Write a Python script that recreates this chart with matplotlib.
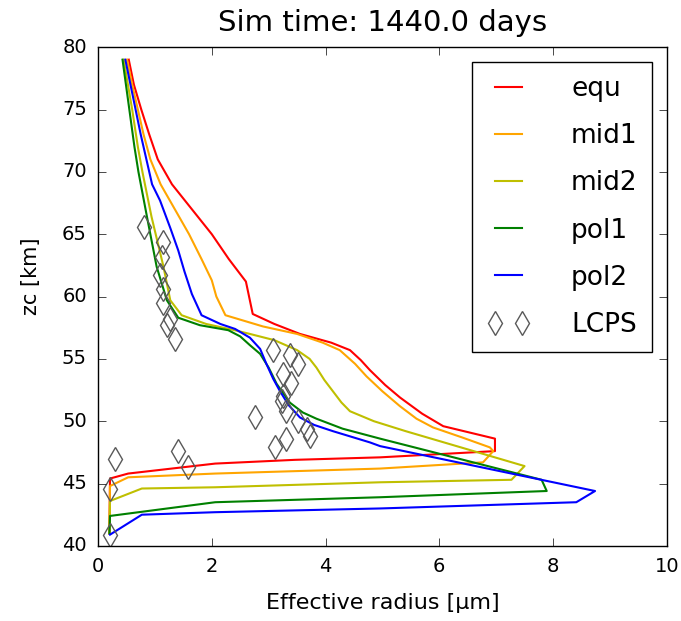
import numpy as np
import matplotlib
matplotlib.use('Agg')
import matplotlib.pyplot as plt

# effective radius profiles (radius in micron, altitude in km)
z_equ = [79.0, 77.0, 75.0, 73.0, 71.0, 69.0, 67.0, 65.0, 63.0, 61.2, 58.6,
         57.8, 57.0, 56.3, 55.7, 54.9, 54.1, 52.9, 51.9, 50.6, 49.6, 48.6,
         47.6, 47.1, 46.9, 46.6, 45.8, 45.4, 41.0]
r_equ = [0.54, 0.63, 0.76, 0.90, 1.05, 1.30, 1.65, 2.00, 2.30, 2.60, 2.72,
         3.10, 3.55, 4.10, 4.43, 4.62, 4.78, 5.05, 5.31, 5.70, 6.07, 6.98,
         6.98, 4.96, 3.46, 2.06, 0.53, 0.21, 0.20]

z_mid1 = [79.0, 77.0, 75.0, 73.0, 71.0, 69.0, 67.0, 65.0, 63.0, 61.3, 60.0,
          58.5, 57.6, 57.0, 56.3, 55.7, 54.6, 53.6, 52.4, 51.2, 50.2, 49.5,
          48.7, 47.9, 47.6, 46.7, 46.2, 45.8, 45.5, 44.8, 41.0]
r_mid1 = [0.51, 0.60, 0.70, 0.80, 0.92, 1.10, 1.35, 1.60, 1.82, 2.00, 2.08,
          2.24, 2.90, 3.50, 3.95, 4.25, 4.52, 4.72, 5.00, 5.31, 5.60, 5.89,
          6.40, 6.89, 6.95, 6.77, 4.96, 2.06, 0.53, 0.21, 0.20]

z_mid2 = [79.0, 75.0, 72.0, 70.0, 66.4, 62.4, 59.7, 58.5, 57.8, 57.3, 57.0,
          56.5, 55.7, 55.0, 54.3, 53.3, 52.4, 51.5, 50.8, 50.0, 49.2, 46.4,
          45.3, 45.1, 44.7, 44.6, 43.6, 41.0]
r_mid2 = [0.45, 0.60, 0.70, 0.78, 0.94, 1.15, 1.27, 1.47, 1.90, 2.40, 2.67,
          3.10, 3.50, 3.72, 3.84, 3.98, 4.13, 4.28, 4.43, 4.85, 5.41, 7.50,
          7.27, 4.96, 2.06, 0.77, 0.21, 0.20]

z_pol1 = [79.0, 75.0, 72.0, 70.0, 66.4, 62.4, 59.7, 58.3, 57.7, 57.3, 56.8,
          56.1, 55.4, 54.3, 53.0, 51.5, 50.7, 50.2, 49.4, 48.6, 45.3, 44.4,
          43.9, 43.5, 42.4, 41.0]
r_pol1 = [0.43, 0.55, 0.64, 0.71, 0.86, 1.03, 1.21, 1.41, 1.79, 2.29, 2.50,
          2.67, 2.85, 3.00, 3.14, 3.37, 3.60, 3.84, 4.30, 4.96, 7.80, 7.89,
          4.96, 2.06, 0.21, 0.20]

z_pol2 = [79.0, 77.0, 75.0, 73.0, 71.0, 69.0, 67.7, 65.5, 63.7, 62.0, 60.2,
          58.5, 57.8, 57.4, 56.7, 55.8, 54.6, 53.4, 52.4, 51.3, 50.3, 49.7,
          49.2, 48.3, 48.0, 44.4, 43.5, 43.0, 42.7, 42.5, 40.9]
r_pol2 = [0.48, 0.57, 0.66, 0.75, 0.85, 0.95, 1.09, 1.27, 1.41, 1.52, 1.65,
          1.82, 2.15, 2.41, 2.67, 2.85, 2.96, 3.08, 3.20, 3.35, 3.55, 3.80,
          4.13, 4.78, 4.96, 8.74, 8.41, 4.96, 2.06, 0.77, 0.21]

# LCPS observations
z_lcps = [65.6, 64.4, 63.2, 61.7, 60.6, 59.5, 58.2, 57.7, 56.6,
          55.7, 55.3, 54.6, 53.8, 53.1, 52.0, 51.6, 50.8, 50.3, 50.0,
          49.4, 48.8, 48.6, 47.9,
          47.0, 47.6, 46.3, 44.6, 40.9]
r_lcps = [0.80, 1.15, 1.12, 1.09, 1.15, 1.15, 1.27, 1.21, 1.35,
          3.08, 3.37, 3.52, 3.26, 3.40, 3.26, 3.23, 3.31, 2.76, 3.52,
          3.67, 3.73, 3.31, 3.11,
          0.30, 1.41, 1.58, 0.21, 0.21]

plt.style.use('classic')
fig = plt.figure(figsize=(6.81, 6.21), dpi=100, facecolor='white')
ax = fig.add_axes([0.144, 0.121, 0.835, 0.803])

ax.plot(r_equ, z_equ, color='r', lw=1.5, label='equ')
ax.plot(r_mid1, z_mid1, color='orange', lw=1.5, label='mid1')
ax.plot(r_mid2, z_mid2, color='y', lw=1.5, label='mid2')
ax.plot(r_pol1, z_pol1, color='g', lw=1.5, label='pol1')
ax.plot(r_pol2, z_pol2, color='b', lw=1.5, label='pol2')
ax.plot(r_lcps, z_lcps, 'd', ms=12, mfc='none', mec='0.35', mew=1.0,
        label='LCPS')

ax.set_xlim(0, 10)
ax.set_ylim(40, 80)
ax.set_xticks(np.arange(0, 11, 2))
ax.set_yticks(np.arange(40, 81, 5))
ax.tick_params(labelsize=14, length=6, direction='in', pad=8)
ax.set_xlabel('Effective radius [\u03bcm]', fontsize=16, labelpad=12)
ax.set_ylabel('zc [km]', fontsize=15, labelpad=12)
ax.yaxis.set_label_coords(-0.1, 0.54)
ax.set_title('Sim time: 1440.0 days', fontsize=21, pad=12)
ax.legend(loc='upper right', fontsize=19, numpoints=2, handlelength=1.65,
          handletextpad=1.55, labelspacing=0.8, borderpad=0.55,
          borderaxespad=0.55)

fig.savefig('out.png', dpi=100, facecolor='white')
